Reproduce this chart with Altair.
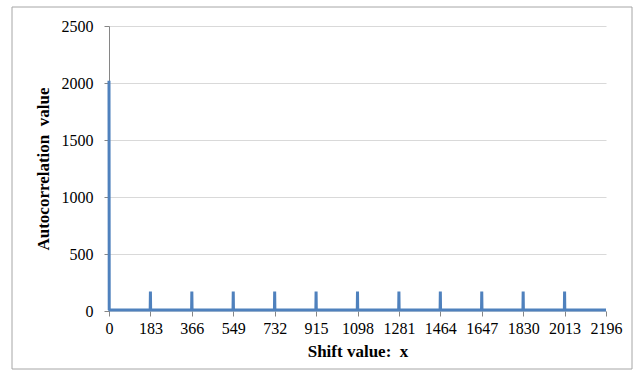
import altair as alt
import pandas as pd

# Shift positions labelled on the x axis
shift_ticks = [0, 183, 366, 549, 732, 915, 1098, 1281, 1464, 1647, 1830, 2013, 2196]
# Autocorrelation peaks (shift, value)
peak_shift = [0, 183, 366, 549, 732, 915, 1098, 1281, 1464, 1647, 1830, 2013]
peak_value = [2020, 170, 170, 170, 170, 170, 170, 170, 170, 170, 170, 170]
# Level of the autocorrelation between peaks
baseline_value = 8
shift_end = 2196

rows = []
for p, v in zip(peak_shift, peak_value):
    if p > 0:
        rows.append({"x": p - 1, "y": baseline_value})
    rows.append({"x": p, "y": v})
    rows.append({"x": p + 1, "y": baseline_value})
rows.append({"x": shift_end, "y": baseline_value})
df = pd.DataFrame(rows)

FONT = "Liberation Serif"

line = alt.Chart(df).mark_line(
    color="#4F81BD", strokeWidth=3, strokeJoin="bevel", clip=False
).encode(
    x=alt.X(
        "x:Q",
        scale=alt.Scale(domain=[0, shift_end], nice=False, zero=True),
        axis=alt.Axis(
            values=shift_ticks,
            format="d",
            title="Shift value: \u00a0x",
            grid=False,
            domain=False,
            tickColor="#868686",
            tickSize=5,
            labelPadding=4,
            labelFont=FONT,
            labelFontSize=16,
            labelColor="#000000",
            titleFont=FONT,
            titleFontSize=17,
            titleFontWeight="bold",
            titleColor="#000000",
            titlePadding=7,
            labelFlush=False,
        ),
    ),
    y=alt.Y(
        "y:Q",
        scale=alt.Scale(domain=[0, 2500], nice=False),
        axis=alt.Axis(
            values=[0, 500, 1000, 1500, 2000, 2500],
            format="d",
            title="Autocorrelation \u00a0value",
            grid=True,
            gridColor="#D9D9D9",
            domainColor="#868686",
            tickColor="#868686",
            tickSize=5,
            labelPadding=11,
            labelFont=FONT,
            labelFontSize=16,
            labelColor="#000000",
            titleFont=FONT,
            titleFontSize=17,
            titleFontWeight="bold",
            titleColor="#000000",
            titlePadding=9,
        ),
    ),
)

# Light frame around the whole figure
frame = alt.Chart(pd.DataFrame({"k": [0]})).mark_rect(
    fill=None, stroke="#A6A6A6", strokeWidth=1, clip=False
).encode(
    x=alt.value(-97), x2=alt.value(523), y=alt.value(-19), y2=alt.value(343)
)

chart = alt.layer(frame, line).properties(
    width=497,
    height=285,
    autosize=alt.AutoSizeParams(type="none"),
    padding={"left": 109, "top": 26, "right": 35, "bottom": 74},
    background="#FFFFFF",
).configure_view(stroke=None)

chart.save("out.html", embed_options={"renderer": "svg", "actions": False})
